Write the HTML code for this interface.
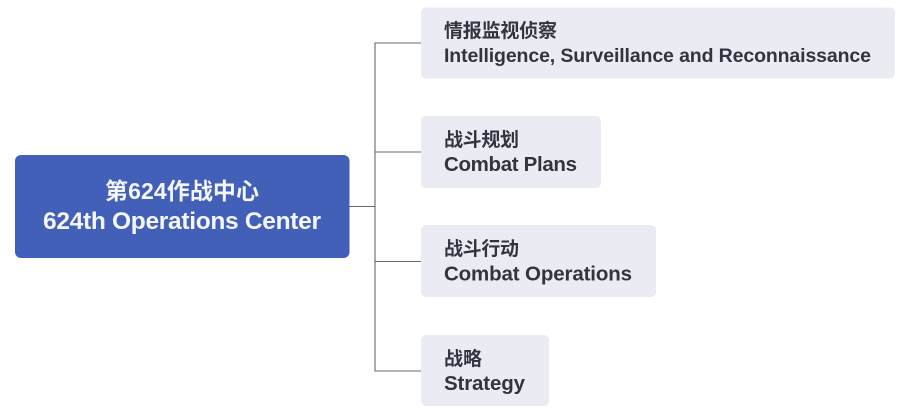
<!DOCTYPE html>
<html>
<head>
<meta charset="utf-8">
<style>
html,body{margin:0;padding:0;background:#fff;width:909px;height:413px;overflow:hidden}
svg{display:block}
text{font-family:"Liberation Sans","Noto Sans CJK SC",sans-serif;font-weight:700}
.cn{font-size:19px;fill:#33343f}
.en{font-size:20.500px;fill:#33343f}
.w{fill:#f4f6fb}
</style>
</head>
<body>
<svg width="909" height="413" viewBox="0 0 909 413" xmlns="http://www.w3.org/2000/svg">
<rect width="909" height="413" fill="#fff"/>
<g fill="none" stroke="#68686c" stroke-width="1.100">
<path d="M349 206.500H375"/>
<path d="M421 43H375V371H421"/>
<path d="M375 152H421"/>
<path d="M375 261.500H421"/>
</g>
<rect x="15" y="155" width="334.500" height="103" rx="6" fill="#4360b8"/>
<rect x="421" y="7.500" width="474" height="71" rx="5" fill="#ebebf3"/>
<rect x="421" y="116" width="180" height="72" rx="5" fill="#ebebf3"/>
<rect x="421" y="225" width="235" height="72" rx="5" fill="#ebebf3"/>
<rect x="421" y="335" width="128" height="71" rx="5" fill="#ebebf3"/>

<text class="w" x="105" y="199" style="font-size:23px" textLength="154" lengthAdjust="spacing">第624作战中心</text>
<text class="w" x="43" y="229" style="font-size:24.500px" textLength="278" lengthAdjust="spacing">624th Operations Center</text>

<text class="cn" x="444" y="37" textLength="113" lengthAdjust="spacing">情报监视侦察</text>
<text class="en" x="444" y="62" style="font-size:19.500px" textLength="427" lengthAdjust="spacing">Intelligence, Surveillance and Reconnaissance</text>

<text class="cn" x="444" y="146" textLength="75" lengthAdjust="spacing">战斗规划</text>
<text class="en" x="444" y="171" textLength="133" lengthAdjust="spacing">Combat Plans</text>

<text class="cn" x="444" y="255" textLength="75" lengthAdjust="spacing">战斗行动</text>
<text class="en" x="444" y="280.500" textLength="188" lengthAdjust="spacing">Combat Operations</text>

<text class="cn" x="444" y="365" textLength="38" lengthAdjust="spacing">战略</text>
<text class="en" x="444" y="390" textLength="81" lengthAdjust="spacing">Strategy</text>
</svg>
</body>
</html>
